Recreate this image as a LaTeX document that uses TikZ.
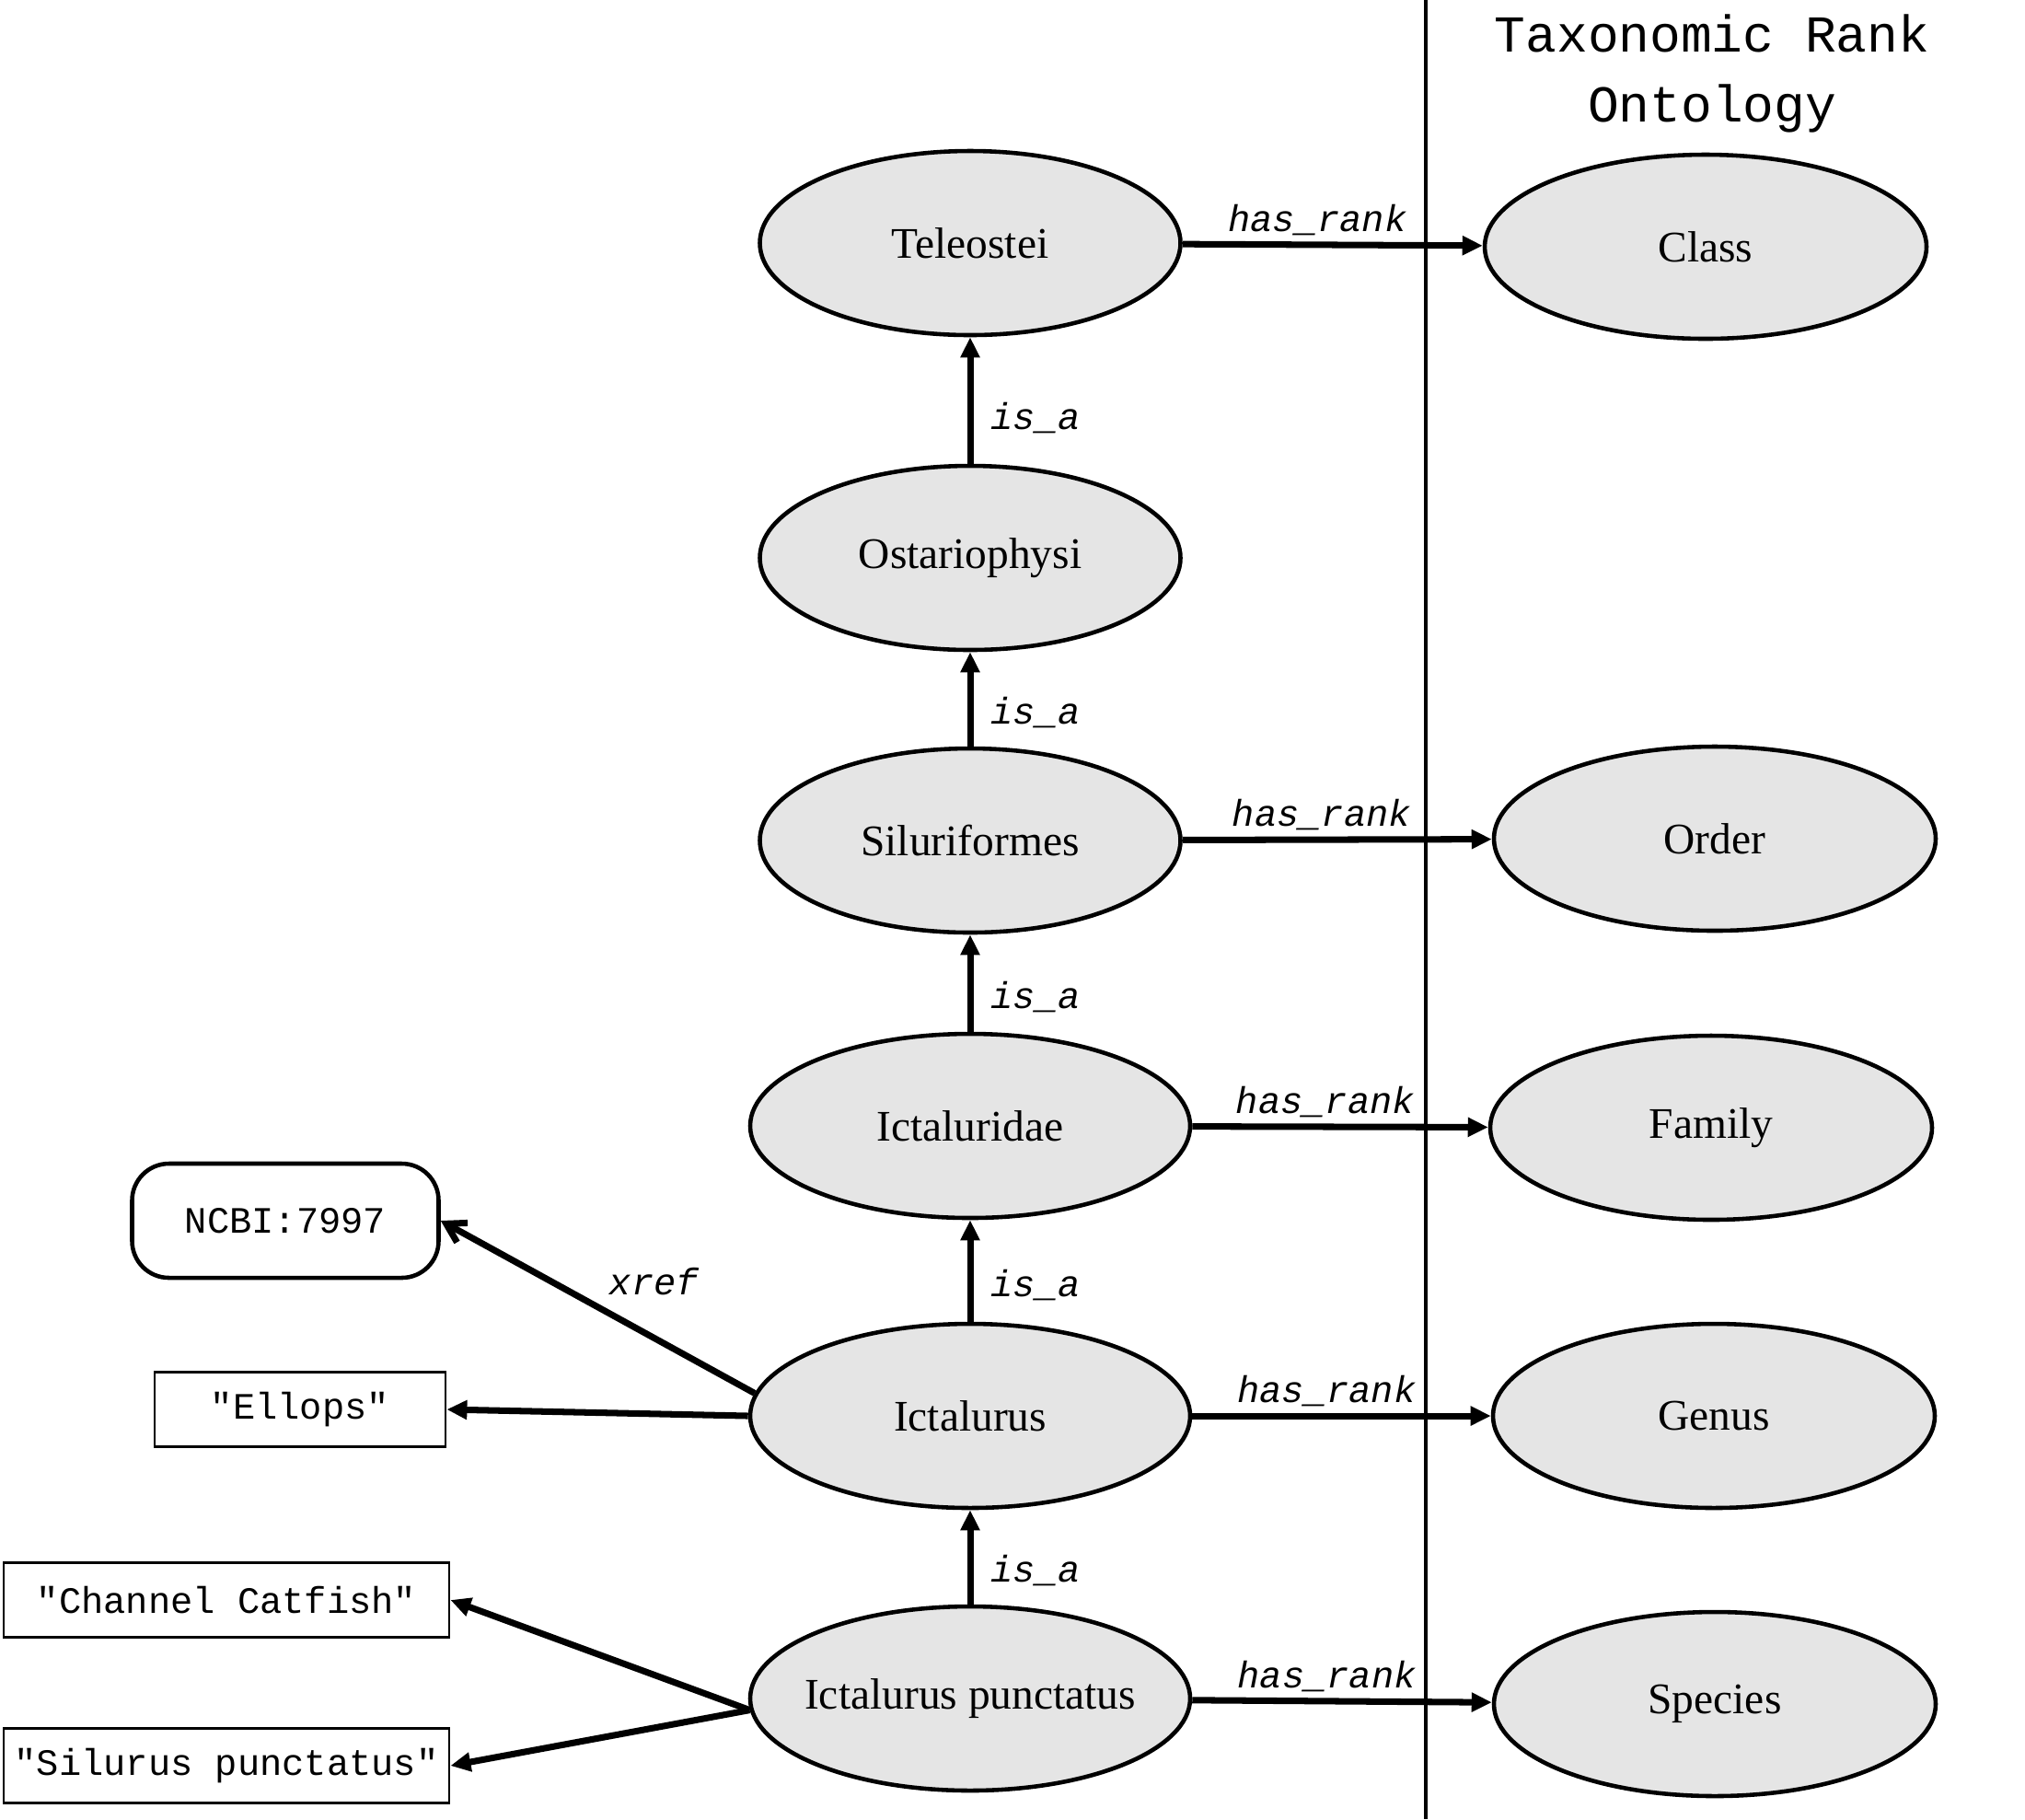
\documentclass[tikz,border=0pt]{standalone}
\usepackage{fontspec}
\setmainfont{Liberation Serif}
\setmonofont{Liberation Mono}
\usetikzlibrary{arrows.meta, positioning, shapes.geometric}

\begin{document}
\begin{tikzpicture}[>={Triangle[length=0.22cm, width=0.2cm]},
    taxon/.style={draw, line width=1.3pt, fill=black!10, ellipse, inner sep=0pt,
        minimum width=4.57cm, minimum height=2cm, font=\fontsize{13.5}{16}\selectfont},
    rank/.style={taxon, minimum width=4.8cm},
    literal/.style={draw, line width=0.8pt, inner sep=0pt, minimum height=0.81cm,
        font=\fontsize{11.5}{14}\ttfamily},
    rel/.style={->, line width=2pt},
    rellabel/.style={font=\fontsize{11.5}{14}\ttfamily\itshape, inner sep=2pt}]
    \useasboundingbox (0,0) rectangle (22,-19.76);

    % Ontology divider and title
    \draw[line width=1pt] (15.49,0) -- (15.49,-19.76);
    \node[font=\fontsize{16}{21.6}\ttfamily, align=center] (title) at (18.60,-0.80)
        {Taxonomic Rank\\Ontology};

    % Taxa
    \node[taxon] (teleostei) at (10.54,-2.64) {Teleostei};
    \node[taxon] (ostario) at (10.54,-6.06) {Ostariophysi};
    \node[taxon] (siluri) at (10.54,-9.13) {Siluriformes};
    \node[taxon, minimum width=4.78cm] (ictaluridae) at (10.54,-12.23) {Ictaluridae};
    \node[taxon, minimum width=4.78cm] (ictalurus) at (10.54,-15.38) {Ictalurus};
    \node[taxon, minimum width=4.78cm, inner xsep=-0.15cm] (punctatus) at (10.54,-18.45)
        {Ictalurus punctatus};

    % Ranks
    \node[rank] (class) at (18.53,-2.68) {Class};
    \node[rank] (order) at (18.63,-9.11) {Order};
    \node[rank] (family) at (18.59,-12.25) {Family};
    \node[rank] (genus) at (18.62,-15.38) {Genus};
    \node[rank] (species) at (18.63,-18.51) {Species};

    % Literals and xrefs
    \node[literal, line width=1.3pt, rounded corners=0.4cm, minimum width=3.33cm,
          minimum height=1.24cm] (ncbi) at (3.10,-13.26) {NCBI:7997};
    \node[literal, minimum width=3.16cm] (ellops) at (3.26,-15.31) {"Ellops"};
    \node[literal, minimum width=4.84cm] (catfish) at (2.46,-17.38) {"Channel Catfish"};
    \node[literal, minimum width=4.84cm] (silurus) at (2.46,-19.18) {"Silurus punctatus"};

    % is_a
    \foreach \lower/\upper in {ostario/teleostei, siluri/ostario, ictaluridae/siluri,
                               ictalurus/ictaluridae, punctatus/ictalurus}
        \draw[rel] (\lower) -- (\upper)
            node[pos=0.36, right=0.12cm, rellabel] {is\_a};

    % has_rank
    \foreach \taxon/\rnk in {teleostei/class, siluri/order, ictaluridae/family,
                             ictalurus/genus, punctatus/species}
        \draw[rel] (\taxon) -- (\rnk)
            node[pos=0.45, above, rellabel] {has\_rank};

    % Synonyms
    \draw[line width=2pt, -{Straight Barb[length=0.2cm, width=0.24cm]}]
        (ictalurus.174) -- (ncbi.east)
        node[midway, above right=0.02cm and 0.02cm, rellabel] {xref};
    \draw[rel] (ictalurus.west) -- (ellops.east);
    \draw[rel] (punctatus.183) -- (catfish.east);
    \draw[rel] (punctatus.183) -- (silurus.east);

\end{tikzpicture}
\end{document}
